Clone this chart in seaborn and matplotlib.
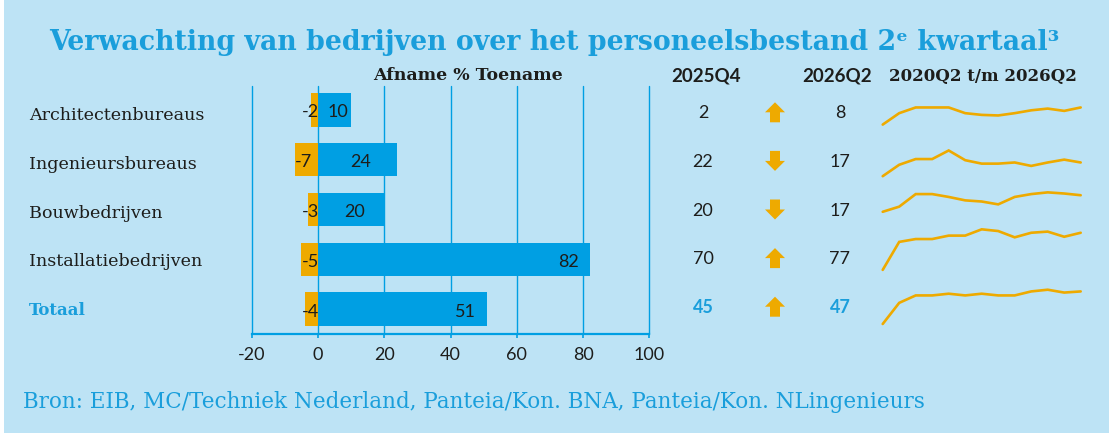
import numpy as np
import pandas as pd
import matplotlib
matplotlib.use("Agg")
import matplotlib.pyplot as plt
from matplotlib.patches import Rectangle, Polygon
import seaborn as sns

# ---------------- data ----------------
categories = ["Architectenbureaus", "Ingenieursbureaus", "Bouwbedrijven",
              "Installatiebedrijven", "Totaal"]
afname = [-2, -7, -3, -5, -4]
toename = [10, 24, 20, 82, 51]
q4_2025 = [2, 22, 20, 70, 45]
q2_2026 = [8, 17, 17, 77, 47]
periods = ["2020Q2", "2020Q4", "2021Q2", "2021Q4", "2022Q2", "2022Q4", "2023Q2",
           "2023Q4", "2024Q2", "2024Q4", "2025Q2", "2025Q4", "2026Q2"]
spark_arch = [-22, -2, 8, 8, 8, -2, -5, -6, -2, 3, 6, 2, 8]
spark_ing = [-7, 13, 23, 23, 38, 21, 15, 15, 17, 11, 17, 22, 17]
spark_bouw = [-12, -3, 19, 19, 14, 8, 6, 1, 14, 19, 22, 20, 17]
spark_inst = [12, 61, 66, 66, 72, 72, 83, 80, 69, 77, 79, 70, 77]
spark_tot = [-10, 27, 40, 40, 43, 40, 43, 40, 40, 47, 50, 45, 47]
sparks = [spark_arch, spark_ing, spark_bouw, spark_inst, spark_tot]
x_ticks = [-20, 0, 20, 40, 60, 80, 100]

title = "Verwachting van bedrijven over het personeelsbestand 2\u1d49 kwartaal\u00b3"
source = "Bron: EIB, MC/Techniek Nederland, Panteia/Kon. BNA, Panteia/Kon. NLingenieurs"

# ---------------- style ----------------
BG = "#BDE3F5"
BLUE = "#009FE3"
ORANGE = "#EEAA00"
TITLE_BLUE = "#1A9EDB"
DARK = "#1D1D1B"
SERIF = ["DejaVu Serif", "DejaVu Sans"]
SANS = ["Lato", "DejaVu Sans"]

sns.set_theme(style="white")
plt.rcParams["font.family"] = SANS

W, H = 1109, 433
fig = plt.figure(figsize=(W / 100, H / 100), dpi=100, facecolor=BG)
fig.patches.append(Rectangle((0, 0), 4 / W, 1, transform=fig.transFigure,
                             facecolor="white", edgecolor="none", zorder=0))

def fx(px):
    return px / W

def fy(py):
    return 1 - py / H

# ---------------- bar chart ----------------
ax_left, ax_right, ax_top, ax_bot = 251.7, 649.3, 86, 334
ax = fig.add_axes([fx(ax_left), fy(ax_bot), (ax_right - ax_left) / W, (ax_bot - ax_top) / H])
ax.set_facecolor("none")

df = pd.DataFrame({"cat": categories, "afname": afname, "toename": toename})
sns.barplot(data=df, x="afname", y="cat", orient="h", color=ORANGE, saturation=1,
            width=0.67, ax=ax, zorder=3, edgecolor="none", linewidth=0)
sns.barplot(data=df, x="toename", y="cat", orient="h", color=BLUE, saturation=1,
            width=0.67, ax=ax, zorder=3, edgecolor="none", linewidth=0)
ax.set_xlim(-20, 100)
ax.set_ylim(4.5, -0.48)
ax.set_xticks(x_ticks)
ax.set_xticklabels([str(t) for t in x_ticks])
ax.set_yticks([])
ax.set_xlabel("")
ax.set_ylabel("")
for s in ["top", "left", "right"]:
    ax.spines[s].set_visible(False)
ax.spines["bottom"].set_color(BLUE)
ax.spines["bottom"].set_linewidth(1.6)
ax.xaxis.grid(True, color=BLUE, linewidth=1.0)
for gl in ax.get_xgridlines():
    gl.set_clip_on(False)
ax.set_axisbelow(True)
ax.tick_params(axis="x", direction="out", length=3, width=1.2, color=BLUE,
               labelsize=13, labelcolor=DARK, pad=6, bottom=True)

for i, (neg, pos) in enumerate(zip(afname, toename)):
    px = pos - 6.5 if pos > 40 else pos / 2 + 1
    ax.text(px, i + 0.05, str(pos), ha="center", va="center", fontsize=13,
            color=DARK, zorder=5)
    if neg <= -6:
        ax.text(neg + 0.1, i + 0.05, str(neg), ha="left", va="center",
                fontsize=13, color=DARK, zorder=5)
    else:
        ax.text(0.4, i + 0.05, str(neg), ha="right", va="center",
                fontsize=13, color=DARK, zorder=5)

# ---------------- headings / labels ----------------
fig.text(0.5, fy(43), title, ha="center", va="center", fontsize=19.3,
         fontweight="bold", color=TITLE_BLUE, family=SERIF)
fig.text(fx(468), fy(76), "Afname % Toename", ha="center", va="center",
         fontsize=12.5, fontweight="bold", color=DARK, family=SERIF)
fig.text(fx(706), fy(76), "2025Q4", ha="center", va="center",
         fontsize=13.5, fontweight="bold", color=DARK, family=SANS)
fig.text(fx(837), fy(76), "2026Q2", ha="center", va="center",
         fontsize=13.5, fontweight="bold", color=DARK, family=SANS)
fig.text(fx(983), fy(76), "2020Q2 t/m 2026Q2", ha="center", va="center",
         fontsize=12, fontweight="bold", color=DARK, family=SERIF)
fig.text(fx(23), fy(402), source, ha="left", va="center", fontsize=15.5,
         color=TITLE_BLUE, family=SERIF)

row0, pitch = 113.3, 48.6
for i, cat in enumerate(categories):
    total = i == len(categories) - 1
    yb = row0 + i * pitch + 7
    fig.text(fx(29), fy(yb), cat, ha="left", va="baseline",
             fontsize=12 if total else 12.6,
             color=TITLE_BLUE if total else DARK,
             fontweight="bold" if total else "normal", family=SERIF)
    yc = row0 + i * pitch
    col = TITLE_BLUE if total else DARK
    fig.text(fx(703), fy(yc), str(q4_2025[i]), ha="center", va="center",
             fontsize=13, color=col, fontweight="bold" if total else "normal")
    fig.text(fx(840), fy(yc), str(q2_2026[i]), ha="center", va="center",
             fontsize=13, color=col, fontweight="bold" if total else "normal")

# arrows
ax_o = fig.add_axes([0, 0, 1, 1])
ax_o.set_xlim(0, W)
ax_o.set_ylim(H, 0)
ax_o.axis("off")
ax_o.set_zorder(-1)
for i in range(len(categories)):
    cx, cy = 775, row0 + i * pitch - 1
    up = q2_2026[i] >= q4_2025[i]
    s = -1 if up else 1
    pts = [(cx, cy + s * 10), (cx + 10, cy), (cx + 5, cy), (cx + 5, cy - s * 10),
           (cx - 5, cy - s * 10), (cx - 5, cy), (cx - 10, cy)]
    ax_o.add_patch(Polygon(pts, closed=True, facecolor=ORANGE, edgecolor="none"))

# sparklines
sp_left, sp_right = 882.7, 1080.7
floors = [11, 8, 21, 11.5, 6]
units_per_px = 1.75
band = 48.6
for i, vals in enumerate(sparks):
    yc = row0 + i * pitch - 2
    bottom_px = yc + band / 2
    sa = fig.add_axes([fx(sp_left), fy(bottom_px), (sp_right - sp_left) / W, band / H])
    sa.set_facecolor("none")
    sp_df = pd.DataFrame({"period": np.arange(len(periods)), "v": vals})
    sns.lineplot(data=sp_df, x="period", y="v", ax=sa, color=ORANGE,
                 linewidth=1.9, solid_joinstyle="miter")
    for ln in sa.get_lines():
        ln.set_clip_on(False)
    lo = min(vals) - floors[i] * units_per_px
    sa.set_ylim(lo, lo + band * units_per_px)
    sa.set_xlim(0, len(periods) - 1)
    sa.axis("off")

fig.savefig("out.png", dpi=100, facecolor=BG)
